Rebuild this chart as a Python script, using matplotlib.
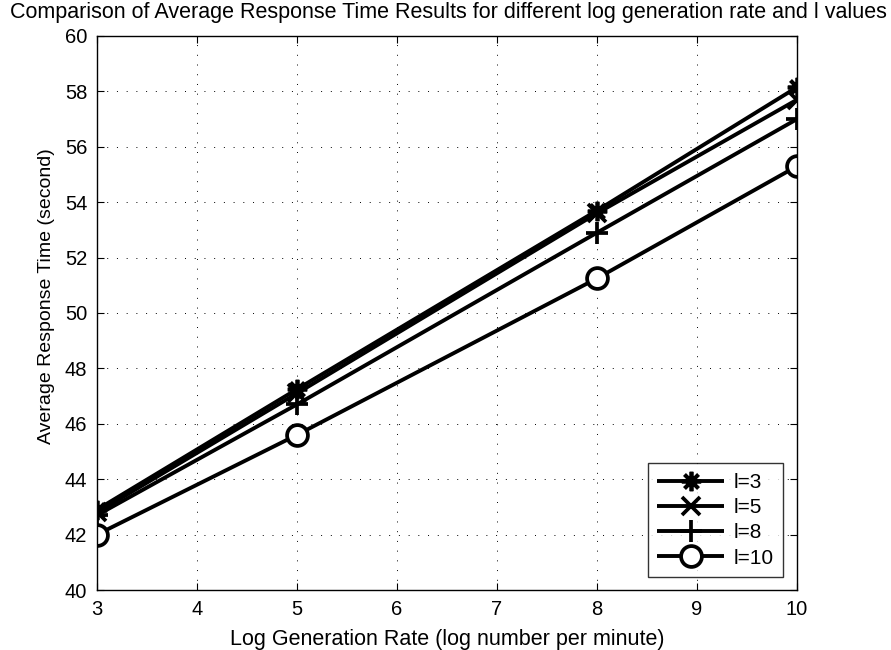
import matplotlib
matplotlib.use("Agg")
import matplotlib.pyplot as plt

plt.rcParams['font.family'] = ['Liberation Sans', 'DejaVu Sans']

# Data
rate = [3, 5, 8, 10]
l3 = [42.9, 47.25, 53.7, 58.15]
l5 = [42.8, 47.1, 53.6, 57.7]
l8 = [42.7, 46.7, 52.9, 57.0]
l10 = [42.0, 45.6, 51.25, 55.3]
labels = ['l=3', 'l=5', 'l=8', 'l=10']

# MATLAB-like marker styles: asterisk, x, plus, open circle
styles = [dict(marker=(8, 2, 0), ms=14),
          dict(marker='x', ms=12.5),
          dict(marker='+', ms=16),
          dict(marker='o', ms=15, mfc='white')]

fig = plt.figure(figsize=(8.91, 6.5), dpi=100)
ax = fig.add_axes([97 / 891, 60 / 650, 700 / 891, 554 / 650])

for vals, lab, st in zip([l3, l5, l8, l10], labels, styles):
    ax.plot(rate, vals, color='k', lw=2.8, mec='k', mew=2.7, label=lab,
            solid_capstyle='butt', **st)

ax.set_xlim(3, 10)
ax.set_ylim(40, 60)
ax.set_xticks(range(3, 11))
ax.set_yticks(range(40, 61, 2))
ax.grid(True, linestyle=(0, (1, 9)), color='k', lw=0.7)
ax.tick_params(direction='in', labelsize=14.5, length=5, width=0.8, pad=7,
               top=True, right=True, labeltop=False, labelright=False)
for s in ax.spines.values():
    s.set_linewidth(1.0)

xl = ax.set_xlabel('Log Generation Rate (log number per minute)', fontsize=15.5)
xl.set_va('baseline')
ax.xaxis.set_label_coords(0.5, -0.0993)
ax.set_ylabel('Average Response Time (second)', fontsize=14)
ax.yaxis.set_label_coords(-0.06, 0.531)

fig.text(10 / 891, 1 - 18 / 650,
         'Comparison of Average Response Time Results for different log generation rate and l values',
         fontsize=15.5, ha='left', va='baseline')

leg = ax.legend(loc='lower right', bbox_to_anchor=(0.98, 0.0235), borderaxespad=0,
                fontsize=15, frameon=True, fancybox=False, edgecolor='k',
                handlelength=3.2, handletextpad=0.45, labelspacing=0.3,
                borderpad=0.45)
leg.get_frame().set_linewidth(1.0)

fig.savefig('out.png', dpi=100)
